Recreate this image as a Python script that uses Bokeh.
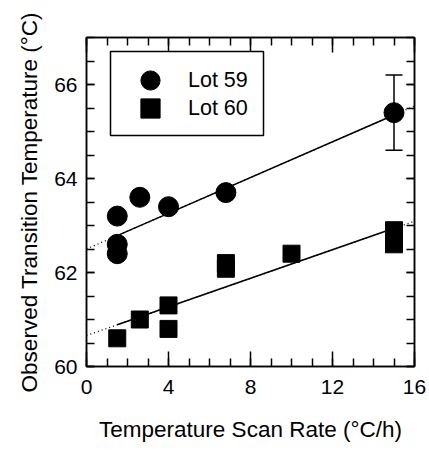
from bokeh.plotting import figure
from bokeh.models import (ColumnDataSource, Range1d, LinearAxis, Whisker, TeeHead,
                          Legend, LegendItem, SingleIntervalTicker, BoxAnnotation)
from bokeh.embed import file_html
from bokeh.resources import INLINE

# ---- data ----
lot59_x = [1.5, 1.5, 1.5, 2.6, 4.0, 6.8, 15.0]
lot59_y = [63.2, 62.6, 62.4, 63.6, 63.4, 63.7, 65.4]
lot59_err_x = [15.0]
lot59_err_y = [65.4]
lot59_err = [0.8]

lot60_x = [1.5, 2.6, 4.0, 4.0, 6.8, 6.8, 10.0, 15.0, 15.0, 15.0]
lot60_y = [60.6, 61.0, 61.3, 60.8, 62.2, 62.08, 62.4, 62.9, 62.75, 62.6]

fit59 = (62.50, 0.190)   # intercept, slope
fit60 = (60.66, 0.152)
fit_solid_x = [1.5, 15.0]
fit_dotted_x = [0.0, 16.0]

series_labels = ["Lot 59", "Lot 60"]

FONT = "Liberation Sans"

p = figure(width=429, height=450, output_backend="svg", toolbar_location=None,
           x_range=Range1d(0, 16), y_range=Range1d(60, 67),
           min_border_left=86, min_border_right=15, min_border_top=37, min_border_bottom=84)
p.xgrid.visible = False
p.ygrid.visible = False
p.outline_line_color = "black"
p.outline_line_width = 1.5
p.background_fill_color = "white"
p.border_fill_color = "white"

def style_axis(ax, major_in, minor_in, labels=True):
    ax.axis_line_color = "black"
    ax.axis_line_width = 1.5
    ax.major_tick_in = major_in
    ax.major_tick_out = 0
    ax.minor_tick_in = minor_in
    ax.minor_tick_out = 0
    ax.major_tick_line_width = 1.5
    ax.minor_tick_line_width = 1.5
    ax.major_tick_line_color = "black"
    ax.minor_tick_line_color = "black"
    ax.major_label_text_font = FONT
    ax.major_label_text_font_size = "21px"
    ax.major_label_text_color = "black" if labels else None
    ax.axis_label_text_font = FONT
    ax.axis_label_text_font_size = "22.5px"
    ax.axis_label_text_font_style = "normal"
    ax.axis_label_text_color = "black"

p.xaxis.ticker = SingleIntervalTicker(interval=4, num_minor_ticks=4)
p.yaxis.ticker = SingleIntervalTicker(interval=2, num_minor_ticks=4)
style_axis(p.xaxis[0], 15, 8)
style_axis(p.yaxis[0], 8, 8)
p.xaxis.axis_label = "Temperature Scan Rate (°C/h)"
p.yaxis.axis_label = "Observed Transition Temperature (°C)"
p.xaxis.major_label_standoff = 13
p.yaxis.major_label_standoff = 9
p.xaxis.axis_label_standoff = 20
p.yaxis.axis_label_standoff = 9

top_ax = LinearAxis(ticker=SingleIntervalTicker(interval=4, num_minor_ticks=4))
right_ax = LinearAxis(ticker=SingleIntervalTicker(interval=2, num_minor_ticks=4))
style_axis(top_ax, 15, 8, labels=False)
style_axis(right_ax, 8, 8, labels=False)
p.add_layout(top_ax, "above")
p.add_layout(right_ax, "right")

# fit lines
p.line(fit_dotted_x, [fit59[0] + fit59[1] * x for x in fit_dotted_x],
       line_color="black", line_width=1.3, line_dash="1 3")
p.line(fit_dotted_x, [fit60[0] + fit60[1] * x for x in fit_dotted_x],
       line_color="black", line_width=1.3, line_dash="1 3")
p.line(fit_solid_x, [fit59[0] + fit59[1] * x for x in fit_solid_x],
       line_color="black", line_width=1.5)
p.line(fit_solid_x, [fit60[0] + fit60[1] * x for x in fit_solid_x],
       line_color="black", line_width=1.5)

# error bar
esrc = ColumnDataSource(dict(x=lot59_err_x,
                             lo=[y - e for y, e in zip(lot59_err_y, lot59_err)],
                             hi=[y + e for y, e in zip(lot59_err_y, lot59_err)]))
w = Whisker(source=esrc, base="x", lower="lo", upper="hi", dimension="height",
            line_color="black", line_width=1.5,
            upper_head=TeeHead(size=17, line_color="black", line_width=1.5),
            lower_head=TeeHead(size=17, line_color="black", line_width=1.5))
p.add_layout(w)

r59 = p.scatter(lot59_x, lot59_y, marker="circle", size=20, fill_color="black", line_color="black")
r60 = p.scatter(lot60_x, lot60_y, marker="square", size=17, fill_color="black", line_color="black")

# legend frame (screen box, canvas coordinates)
box = BoxAnnotation(left=110, right=263, top=51, bottom=135,
                    left_units="canvas", right_units="canvas",
                    top_units="canvas", bottom_units="canvas",
                    fill_color="white", fill_alpha=1.0,
                    line_color="black", line_alpha=1.0, line_width=1.5, level="annotation")
p.add_layout(box)

def one_legend(label, renderer, y_off):
    return Legend(items=[LegendItem(label=label, renderers=[renderer])],
                  location=(30, y_off), orientation="vertical",
                  glyph_width=68, glyph_height=48, label_height=20,
                  padding=0, margin=0, label_standoff=4,
                  label_text_font=FONT, label_text_font_size="21.5px", label_text_color="black",
                  border_line_color=None, background_fill_alpha=0.0)

p.add_layout(one_legend(series_labels[0], r59, 262), "center")
p.add_layout(one_legend(series_labels[1], r60, 234), "center")

open("out.html", "w").write(file_html(p, INLINE))
